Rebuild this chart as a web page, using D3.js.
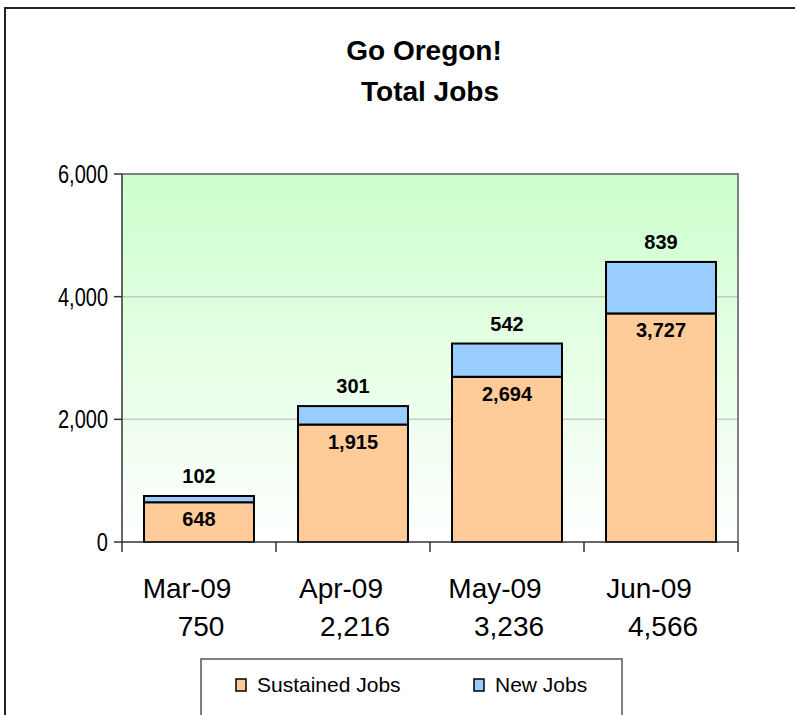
<!DOCTYPE html>
<html lang="en">
<head>
    <meta charset="UTF-8">
    <title>Go Oregon! Total Jobs</title>
    <script src="https://d3js.org/d3.v7.min.js"></script>
    <style>
        body {
            margin: 0;
            padding: 0;
            background-color: white;
        }

        svg {
            display: block;
            font-family: 'Liberation Sans', Arial, sans-serif;
        }

        .title {
            font-size: 28px;
            font-weight: bold;
            text-anchor: middle;
        }

        .value-text {
            font-size: 20px;
            font-weight: bold;
            text-anchor: middle;
        }

        .tick-text {
            font-size: 25px;
            text-anchor: end;
        }

        .cat-text {
            font-size: 28px;
            text-anchor: middle;
        }

        .legend-text {
            font-size: 21px;
        }
    </style>
</head>
<body>
    <svg width="795" height="715"></svg>

    <script>
        const months = ["Mar-09", "Apr-09", "May-09", "Jun-09"];
        const sustainedJobs = [648, 1915, 2694, 3727];
        const newJobs = [102, 301, 542, 839];
        const totals = ["750", "2,216", "3,236", "4,566"];
        const yTicks = [0, 2000, 4000, 6000];
        const seriesNames = ["Sustained Jobs", "New  Jobs"];
        const seriesColors = ["#ffcc99", "#99ccff"];

        const svg = d3.select("svg");
        const width = +svg.attr("width");
        const height = +svg.attr("height");

        const plot = { left: 122, right: 738, top: 174, bottom: 542 };

        const xScale = d3.scaleBand()
            .domain(months)
            .range([plot.left, plot.right])
            .paddingInner(0.286)
            .paddingOuter(0.143);

        const yScale = d3.scaleLinear()
            .domain([0, 6000])
            .range([plot.bottom, plot.top]);

        // outer chart border (runs off the right and bottom edges)
        svg.append("rect")
            .attr("x", 5)
            .attr("y", 8)
            .attr("width", width + 20)
            .attr("height", height + 20)
            .attr("fill", "white")
            .attr("stroke", "#222")
            .attr("stroke-width", 2);

        // title
        svg.append("text")
            .attr("class", "title")
            .attr("x", 424)
            .attr("y", 60)
            .text("Go Oregon!");

        svg.append("text")
            .attr("class", "title")
            .attr("x", 430)
            .attr("y", 101)
            .text("Total Jobs");

        // plot background gradient
        const grad = svg.append("defs")
            .append("linearGradient")
            .attr("id", "bg")
            .attr("x1", 0).attr("y1", 0)
            .attr("x2", 0).attr("y2", 1);
        grad.append("stop").attr("offset", "0%").attr("stop-color", "#ccffcc");
        grad.append("stop").attr("offset", "100%").attr("stop-color", "#ffffff");

        svg.append("rect")
            .attr("x", plot.left)
            .attr("y", plot.top)
            .attr("width", plot.right - plot.left)
            .attr("height", plot.bottom - plot.top)
            .attr("fill", "url(#bg)");

        // gridlines
        svg.selectAll(".grid")
            .data(yTicks.filter(d => d > 0 && d < 6000))
            .enter()
            .append("line")
            .attr("class", "grid")
            .attr("x1", plot.left)
            .attr("x2", plot.right)
            .attr("y1", d => yScale(d))
            .attr("y2", d => yScale(d))
            .attr("stroke", "#c8c8c8")
            .attr("stroke-width", 1.5);

        // plot border top/right
        svg.append("path")
            .attr("d", `M${plot.left},${yScale(6000)}H${plot.right}V${plot.bottom}`)
            .attr("fill", "none")
            .attr("stroke", "#808080")
            .attr("stroke-width", 2);

        // stacked bars
        svg.selectAll(".bar-sustained")
            .data(months)
            .enter()
            .append("rect")
            .attr("class", "bar-sustained")
            .attr("x", d => xScale(d))
            .attr("y", (d, i) => yScale(sustainedJobs[i]))
            .attr("width", xScale.bandwidth())
            .attr("height", (d, i) => yScale(0) - yScale(sustainedJobs[i]))
            .attr("fill", seriesColors[0])
            .attr("stroke", "black")
            .attr("stroke-width", 2);

        svg.selectAll(".bar-new")
            .data(months)
            .enter()
            .append("rect")
            .attr("class", "bar-new")
            .attr("x", d => xScale(d))
            .attr("y", (d, i) => yScale(sustainedJobs[i] + newJobs[i]))
            .attr("width", xScale.bandwidth())
            .attr("height", (d, i) => yScale(sustainedJobs[i]) - yScale(sustainedJobs[i] + newJobs[i]))
            .attr("fill", seriesColors[1])
            .attr("stroke", "black")
            .attr("stroke-width", 2);

        // axes
        svg.append("line")
            .attr("x1", plot.left).attr("x2", plot.left)
            .attr("y1", plot.top).attr("y2", plot.bottom)
            .attr("stroke", "#333").attr("stroke-width", 1.5);

        svg.append("line")
            .attr("x1", plot.left).attr("x2", plot.right)
            .attr("y1", plot.bottom).attr("y2", plot.bottom)
            .attr("stroke", "#333").attr("stroke-width", 1.5);

        svg.selectAll(".ytick")
            .data(yTicks)
            .enter()
            .append("line")
            .attr("class", "ytick")
            .attr("x1", plot.left - 8).attr("x2", plot.left)
            .attr("y1", d => yScale(d)).attr("y2", d => yScale(d))
            .attr("stroke", "#333").attr("stroke-width", 1.5);

        svg.selectAll(".ytick-text")
            .data(yTicks)
            .enter()
            .append("text")
            .attr("class", "tick-text")
            .attr("transform", d => `translate(108,${yScale(d) + 9}) scale(0.8,1)`)
            .text(d => d3.format(",")(d));

        const boundaries = months.map(d => xScale(d) - xScale.step() * xScale.paddingInner() / 2)
            .concat([plot.right]);
        svg.selectAll(".xtick")
            .data(boundaries)
            .enter()
            .append("line")
            .attr("class", "xtick")
            .attr("x1", d => d).attr("x2", d => d)
            .attr("y1", plot.bottom).attr("y2", plot.bottom + 10)
            .attr("stroke", "#333").attr("stroke-width", 1.5);

        // category labels with totals
        svg.selectAll(".cat-text")
            .data(months)
            .enter()
            .append("text")
            .attr("class", "cat-text")
            .attr("x", d => xScale(d) + xScale.bandwidth() / 2 - 12)
            .attr("y", 598)
            .text(d => d);

        svg.selectAll(".total-text")
            .data(totals)
            .enter()
            .append("text")
            .attr("class", "cat-text")
            .attr("x", (d, i) => xScale(months[i]) + xScale.bandwidth() / 2 + 2)
            .attr("y", 636)
            .text(d => d);

        // value labels
        svg.selectAll(".sus-label")
            .data(sustainedJobs)
            .enter()
            .append("text")
            .attr("class", "value-text")
            .attr("x", (d, i) => xScale(months[i]) + xScale.bandwidth() / 2)
            .attr("y", d => yScale(d) + 24)
            .text(d => d3.format(",")(d));

        svg.selectAll(".new-label")
            .data(newJobs)
            .enter()
            .append("text")
            .attr("class", "value-text")
            .attr("x", (d, i) => xScale(months[i]) + xScale.bandwidth() / 2)
            .attr("y", (d, i) => yScale(sustainedJobs[i] + d) - 13)
            .text(d => d3.format(",")(d));

        // legend
        svg.append("rect")
            .attr("x", 201)
            .attr("y", 659)
            .attr("width", 421)
            .attr("height", 70)
            .attr("fill", "white")
            .attr("stroke", "#555")
            .attr("stroke-width", 1.5);

        const legendX = [236, 474];
        seriesNames.forEach((name, i) => {
            svg.append("rect")
                .attr("x", legendX[i])
                .attr("y", 679)
                .attr("width", 10)
                .attr("height", 12)
                .attr("fill", seriesColors[i])
                .attr("stroke", "black")
                .attr("stroke-width", 1.5);
            svg.append("text")
                .attr("class", "legend-text")
                .attr("x", legendX[i] + 21)
                .attr("y", 692)
                .text(name);
        });
    </script>
</body>
</html>
